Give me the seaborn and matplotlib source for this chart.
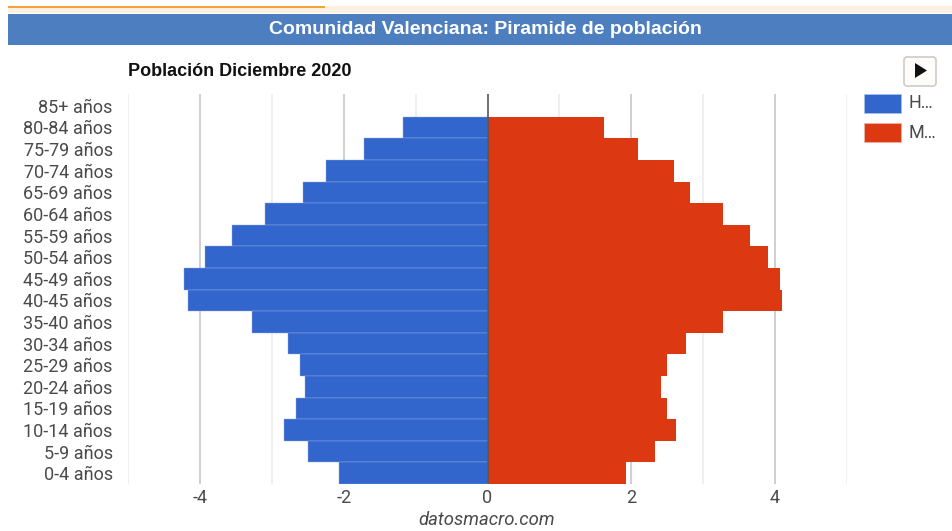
import pandas as pd
import numpy as np
import matplotlib.pyplot as plt
from matplotlib.patches import Rectangle, FancyBboxPatch, Polygon
from matplotlib.ticker import FixedLocator
import seaborn as sns

# data
grupos = ['85+ años', '80-84 años', '75-79 años', '70-74 años', '65-69 años', '60-64 años',
          '55-59 años', '50-54 años', '45-49 años', '40-45 años', '35-40 años', '30-34 años',
          '25-29 años', '20-24 años', '15-19 años', '10-14 años', '5-9 años', '0-4 años']
hombres = [0, -1.17, -1.72, -2.25, -2.57, -3.09, -3.56, -3.93, -4.22, -4.17,
           -3.27, -2.78, -2.61, -2.54, -2.66, -2.83, -2.50, -2.07]
mujeres = [0, 1.62, 2.09, 2.60, 2.81, 3.28, 3.65, 3.90, 4.07, 4.10,
           3.28, 2.76, 2.50, 2.42, 2.50, 2.62, 2.33, 1.92]
series = ['Hombres', 'Mujeres']
colores = ['#3366cc', '#dc3912']
ticks_mayores = [-4, -2, 0, 2, 4]
ticks_menores = [-5, -3, -1, 1, 3, 5]

df = pd.DataFrame({
    'grupo': grupos * 2,
    'valor': hombres + mujeres,
    'serie': [series[0]] * len(grupos) + [series[1]] * len(grupos),
})

sns.set_theme(style='white')
plt.rcParams['font.family'] = ['Roboto', 'DejaVu Sans']

W, H = 952, 531
fig = plt.figure(figsize=(W / 100, H / 100), dpi=100)
# plot area in pixels: x 128-847, y 94-484
ax = fig.add_axes([128 / W, 1 - 484 / H, (847 - 128) / W, (484 - 94) / H])

sns.barplot(data=df, y='grupo', x='valor', hue='serie', order=grupos, hue_order=series,
            palette=colores, dodge=False, width=1.0, saturation=1, legend=False,
            linewidth=0, ax=ax, zorder=3)
# thin light seams on the blue side only, like the original
for p in ax.patches:
    if p.get_x() + p.get_width() <= 0 and p.get_width() != 0:
        p.set_edgecolor('#8fabe3')
        p.set_linewidth(0.3)

ax.set_xlim(-5, 5)
ax.set_ylim(len(grupos) - 0.5, -0.55)
ax.set_xlabel('')
ax.set_ylabel('')
sns.despine(ax=ax, left=True, bottom=True, top=True, right=True)

ax.xaxis.set_major_locator(FixedLocator(ticks_mayores))
ax.xaxis.set_minor_locator(FixedLocator(ticks_menores))
ax.grid(False)
ax.grid(True, axis='x', which='major', color='#cccccc', linewidth=1.3, zorder=0)
ax.grid(True, axis='x', which='minor', color='#ebebeb', linewidth=1.1, zorder=0)
ax.axvline(0, color='#555555', linewidth=1.1, zorder=4)
ax.tick_params(axis='x', which='both', length=0, pad=3.5, labelsize=13, labelcolor='#4a4a4a')
ax.tick_params(axis='y', length=0, pad=11, labelsize=13, labelcolor='#4a4a4a')
ax.set_xticklabels(['-4', '-2', '0', '2', '4'])

# page furniture, in pixel coordinates
bg = fig.add_axes([0, 0, 1, 1], zorder=-1)
bg.set_xlim(0, W)
bg.set_ylim(H, 0)
bg.axis('off')
bg.add_patch(Rectangle((8, 6), W - 8, 7, color='#fdf0e0', lw=0))
bg.add_patch(Rectangle((8, 5.5), 317, 2.2, color='#f2a33c', lw=0))
bg.add_patch(Rectangle((8, 13.5), W - 8, 31.5, color='#4d7ebf', lw=0))

fig.text(485.5 / W, 1 - 29 / H, 'Comunidad Valenciana: Piramide de población', color='white',
         fontsize=14, fontweight='bold', family='Liberation Sans', ha='center', va='center')
fig.text(128 / W, 1 - 71 / H, 'Población Diciembre 2020', color='#111111',
         fontsize=13, fontweight='bold', family='Liberation Sans', ha='left', va='center')
fig.text(487 / W, 1 - 520 / H, 'datosmacro.com', color='#4a4a4a',
         fontsize=13.3, style='italic', ha='center', va='center')

# play button
top = fig.add_axes([0, 0, 1, 1], zorder=5)
top.set_xlim(0, W)
top.set_ylim(H, 0)
top.axis('off')
top.add_patch(FancyBboxPatch((904, 57), 32, 29, boxstyle='round,pad=0,rounding_size=3',
                             fc='#fffdfa', ec='#cfcac4', lw=1.2))
top.add_patch(Polygon([(915, 63), (927, 70.5), (915, 78)], fc='#111111', ec='none'))

# legend, clipped labels as in the original
for i, (lab, col) in enumerate(zip(['H…', 'M…'], colores)):
    y = 94 + i * 29
    top.add_patch(Rectangle((864, y), 37, 18.5, fc=col, ec='#a9bfe8' if i == 0 else '#f0b5a5', lw=0.5))
    top.text(908, y + 9.5, lab, color='#4a4a4a', fontsize=13, va='center', ha='left')

fig.savefig('out.png', dpi=100)
